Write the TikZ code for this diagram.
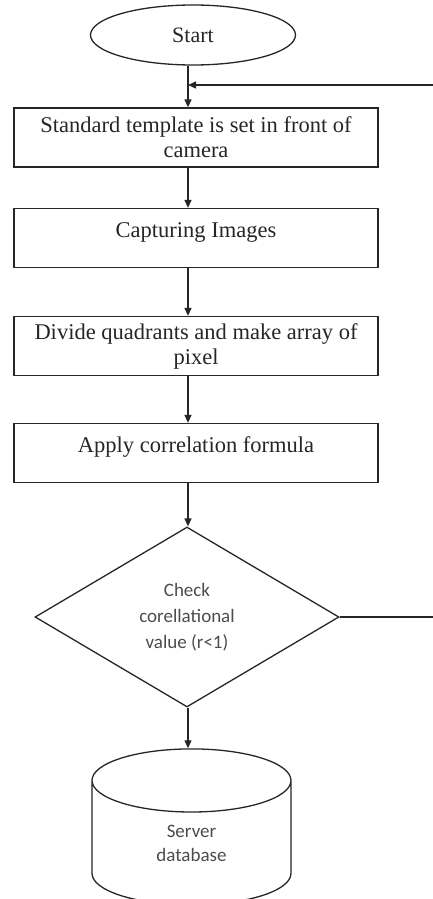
\documentclass[tikz,border=0pt]{standalone}
\usepackage{fontspec}
\setmainfont{Liberation Serif}
\newfontfamily\calibri{Carlito}
\usetikzlibrary{shapes.geometric,arrows.meta}

\begin{document}
\begin{tikzpicture}[yscale=-1, x=1pt, y=1pt,
    line width=1.3pt, color=black!85, >={Triangle[length=8pt,width=7pt]},
    startoval/.style={draw, ellipse, minimum width=205pt, minimum height=60pt,
      inner sep=0pt, font=\fontsize{22}{25}\selectfont},
    stepbox/.style={draw, rectangle, minimum width=364pt, minimum height=59pt,
      inner sep=0pt, align=center, font=\fontsize{22.5}{25}\selectfont},
    toptext/.style={text height=16pt, text depth=18pt},
    checkbox/.style={draw, diamond, aspect=1.7, minimum width=304pt,
      minimum height=180pt, inner sep=0pt, align=center,
      text=black!70, font=\calibri\fontsize{19}{26}\selectfont},
    dbcyl/.style={draw, cylinder, shape border rotate=90, aspect=0.9,
      minimum width=199pt, minimum height=156pt, inner sep=0pt, align=center,
      text=black!70, font=\calibri\fontsize{19}{24}\selectfont}]
    \useasboundingbox (0,0) rectangle (433,899);
    % \draw[very thin, color=gray, step=50pt] (0,0) grid (433,899);

    \coordinate (axis) at (188,0);
    \coordinate (backin) at (433,85);
    \coordinate (backout) at (433,0);

    \node[startoval] (start) at (193,35) {Start};
    \node[stepbox] (template) at (196,137.5) {Standard template is set in front of\\camera};
    \node[stepbox, toptext] (capture) at (196,238) {Capturing Images};
    \node[stepbox] (divide) at (196,346) {Divide quadrants and make array of\\pixel};
    \node[stepbox, toptext] (apply) at (196,453) {Apply correlation formula};
    \node[checkbox] (check) at (187,617) {Check\\corellational\\value (r<1)};
    \node[dbcyl] (server) at (191.5,843) {Server\\database};

    \draw[->] (start.south -| axis) -- (template.north -| axis);
    \draw[->] (template.south -| axis) -- (capture.north -| axis);
    \draw[->] (capture.south -| axis) -- (divide.north -| axis);
    \draw[->] (divide.south -| axis) -- (apply.north -| axis);
    \draw[->] (apply.south -| axis) -- (check.north -| axis);
    \draw[->] (check.south -| axis) -- (server.north -| axis);

    \draw[->] (backin) -- (backin -| axis);
    \draw (check.east) -- (check.east -| backout);
  \end{tikzpicture}
\end{document}
